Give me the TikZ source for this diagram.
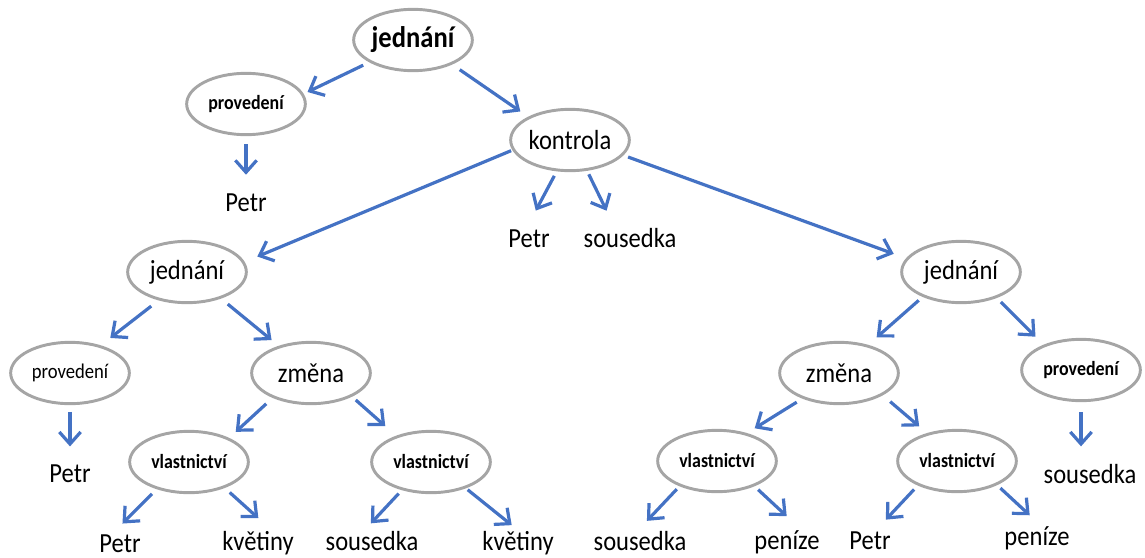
\documentclass[tikz,border=0pt]{standalone}
\usepackage{fontspec}
\setmainfont{Carlito}[FakeStretch=0.89]
\usepackage{xcolor}
\usepackage{tikz}
\usetikzlibrary{arrows.meta,shapes.geometric}
\definecolor{linkblue}{RGB}{68, 114, 196}
\definecolor{ringgray}{RGB}{165, 165, 165}

\begin{document}
\begin{tikzpicture}[x=0.75pt, y=-0.75pt,
    bubble/.style={ellipse, draw=ringgray, line width=2.2pt, minimum width=89pt,
      minimum height=46pt, inner sep=0pt, font=\fontsize{20.7}{22}\selectfont},
    small/.style={font=\fontsize{15.1}{17}\selectfont\bfseries},
    leaf/.style={anchor=base, inner sep=0pt, text height=13pt, text depth=0pt,
      font=\fontsize{20.7}{22}\selectfont},
    link/.style={draw=linkblue, line width=2.4pt,
      -{Straight Barb[length=9pt, width=16pt]}}]
      \useasboundingbox (0,0) rectangle (1145,557);
      % top of the tree
      \node[bubble, font=\fontsize{22.4}{24}\selectfont\bfseries] (root) at (413,40) {jednání};
      \node[bubble, small] (provT) at (246,104) {provedení};
      \node[bubble] (kontrola) at (570,140) {kontrola};
      \node[leaf] (petrT) at (246,211) {Petr};
      \node[leaf] (petrK) at (529,247) {Petr};
      \node[leaf] (sousK) at (630,247) {sousedka};
      % second level
      \node[bubble] (jedL) at (187,272) {jednání};
      \node[bubble] (jedR) at (961,272) {jednání};
      \node[bubble, font=\fontsize{15.7}{17}\selectfont] (provL) at (70,373) {provedení};
      \node[bubble] (zmenaL) at (311,373) {změna};
      \node[bubble] (zmenaR) at (839,373) {změna};
      \node[bubble, small] (provR) at (1081,370) {provedení};
      \node[leaf] (petrL) at (70,482) {Petr};
      \node[leaf] (sousR) at (1090,483) {sousedka};
      % ownership nodes
      \node[bubble, small] (vlA) at (189,462) {vlastnictví};
      \node[bubble, small] (vlB) at (431,462) {vlastnictví};
      \node[bubble, small] (vlC) at (717,461) {vlastnictví};
      \node[bubble, small] (vlD) at (957,461) {vlastnictví};
      % bottom row
      \node[leaf] (petrA) at (120,552) {Petr};
      \node[leaf] (kvetA) at (258,550) {květiny};
      \node[leaf] (sousB) at (372,550) {sousedka};
      \node[leaf] (kvetB) at (518,550) {květiny};
      \node[leaf] (sousC) at (640,550) {sousedka};
      \node[leaf] (penC) at (787,549) {peníze};
      \node[leaf] (petrD) at (870,549) {Petr};
      \node[leaf] (penD) at (1037,545) {peníze};
      % arrows: from / to / gap at start / gap at tip
      \foreach \a/\b/\s/\e in {
          root.207/provT.10/5pt/3.2pt, root.328/kontrola.151/6.8pt/7pt,
          provT.south/petrT.north/6pt/14pt,
          kontrola.247/petrK.110/3.8pt/16pt, kontrola.299/sousK.148/2.9pt/15.6pt,
          kontrola.190/jedL.10/1pt/10.3pt, kontrola.344/jedR.166/3.7pt/9.8pt,
          jedL.225/provL.42/7pt/9pt, jedL.322/zmenaL.140/6.5pt/6.8pt,
          provL.south/petrL.north/5pt/13.5pt,
          zmenaL.213/vlA.31/6.5pt/6.7pt, zmenaL.330/vlB.143/3.7pt/10.8pt,
          vlA.220/petrA.133/4.9pt/11.5pt, vlA.324/kvetA.29/5pt/15.9pt,
          vlB.224/sousB.137/3.5pt/9.3pt, vlB.323/kvetB.73/1.7pt/8.7pt,
          jedR.213/zmenaR.44/3.9pt/8.4pt, jedR.324/provR.146/4.3pt/8.5pt,
          zmenaR.215/vlC.43/5pt/6.8pt, zmenaR.333/vlD.137/7.3pt/7.7pt,
          vlC.214/sousC.114/3pt/11.9pt, vlC.326/penC.29/3.7pt/16.8pt,
          vlD.212/petrD.62/4pt/12.1pt, vlD.329/penD.57/3.3pt/13.4pt} {
        \draw[link, shorten <=\s, shorten >=\e] (\a) -- (\b);
      }
      \draw[link, shorten <=7.5pt, shorten >=14.3pt] (provR.south) -- (provR.south |- sousR.north);
    \end{tikzpicture}
\end{document}
